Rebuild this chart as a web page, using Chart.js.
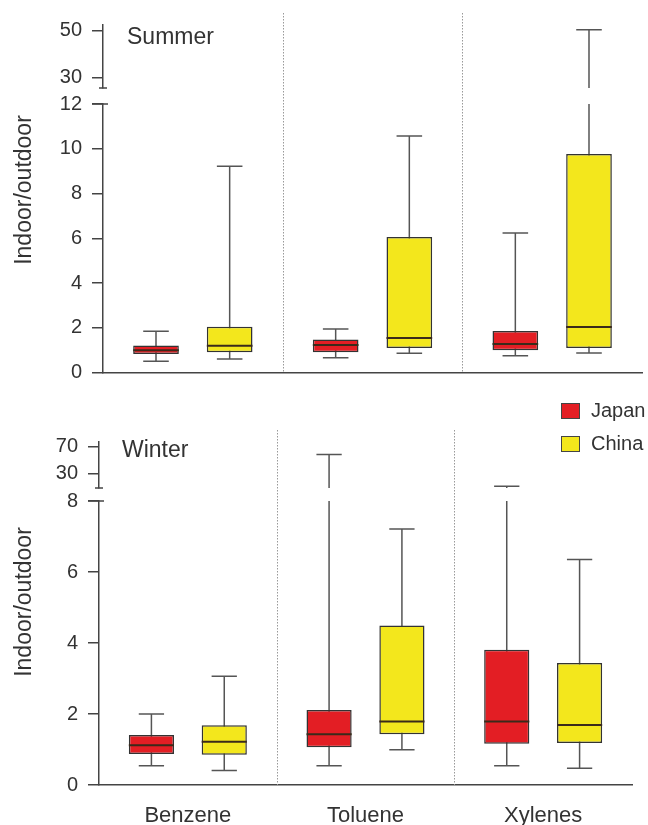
<!DOCTYPE html>
<html>
<head>
<title>Indoor/outdoor ratios</title>
<script src="https://cdn.jsdelivr.net/npm/chart.js"></script>
<style>
  body { margin: 0; background: #fff; font-family: 'Liberation Sans', Arial, sans-serif; color: #333; }
  .page { position: relative; width: 648px; height: 825px; overflow: hidden; }
  canvas { position: absolute; left: 0; }
  .season { position: absolute; font-size: 23px; line-height: 23px; }
  .ytitle { position: absolute; font-size: 23px; line-height: 23px; white-space: nowrap;
            transform: translate(-50%, -50%) rotate(-90deg); }
  .legend { position: absolute; left: 561px; top: 394px; font-size: 20px; }
  .legend .row { height: 33px; display: flex; align-items: center; }
  .legend .sw { width: 17px; height: 14px; border: 1.5px solid #444; margin-right: 11px; }
</style>
</head>
<body>
<div class="page">
  <canvas id="summerLow" width="648" height="395" style="top:0px"></canvas>
  <canvas id="summerUp" width="648" height="110" style="top:0px"></canvas>
  <canvas id="winterLow" width="648" height="430" style="top:395px"></canvas>
  <canvas id="winterUp" width="648" height="90" style="top:420px"></canvas>

  <div class="season" style="left:127px; top:25px">Summer</div>
  <div class="season" style="left:122px; top:438px">Winter</div>
  <div class="ytitle" style="left:23px; top:190px">Indoor/outdoor</div>
  <div class="ytitle" style="left:23px; top:602px">Indoor/outdoor</div>

  <div class="legend">
    <div class="row"><span class="sw" style="background:#e31e24"></span>Japan</div>
    <div class="row"><span class="sw" style="background:#f3e71c"></span>China</div>
  </div>
</div>

<script>
    const categories = ['Benzene', 'Toluene', 'Xylenes'];

    // Summer box plots (min, q1, median, q3, max)
    const summerJapanMin = [0.50, 0.66, 0.75];
    const summerJapanQ1  = [0.83, 0.90, 1.00];
    const summerJapanMed = [1.00, 1.23, 1.27];
    const summerJapanQ3  = [1.21, 1.48, 1.85];
    const summerJapanMax = [1.84, 1.94, 6.24];

    const summerChinaMin = [0.60, 0.86, 0.87];
    const summerChinaQ1  = [0.90, 1.09, 1.09];
    const summerChinaMed = [1.20, 1.54, 2.03];
    const summerChinaQ3  = [2.05, 6.06, 9.77];
    const summerChinaMax = [9.22, 10.57, 50.4];

    // Winter
    const winterJapanMin = [0.54, 0.54, 0.54];
    const winterJapanQ1  = [0.87, 1.06, 1.16];
    const winterJapanMed = [1.12, 1.43, 1.79];
    const winterJapanQ3  = [1.41, 2.11, 3.81];
    const winterJapanMax = [2.00, 58.0, 11.0];

    const winterChinaMin = [0.41, 0.99, 0.47];
    const winterChinaQ1  = [0.85, 1.43, 1.18];
    const winterChinaMed = [1.22, 1.79, 1.69];
    const winterChinaQ3  = [1.68, 4.49, 3.44];
    const winterChinaMax = [3.06, 7.21, 6.35];

    // broken y axes: upper and lower segment of each panel
    const summerUpperTicks = [30, 50];
    const summerLowerTicks = [0, 2, 4, 6, 8, 10, 12];
    const winterUpperTicks = [30, 70];
    const winterLowerTicks = [0, 2, 4, 6, 8];

    const RED = '#e31e24';
    const YELLOW = '#f3e71c';
    const FONT = "'Liberation Sans', Arial, sans-serif";

    function boxDataset(label, color, mn, q1, med, q3, mx) {
        return {
            label: label,
            data: q1.map((v, i) => [v, q3[i]]),
            backgroundColor: color,
            borderColor: '#333',
            borderWidth: 1.5,
            borderSkipped: false,
            categoryPercentage: 0.82,
            barPercentage: 0.62,
            clip: 0,
            stats: { min: mn, med: med, max: mx }
        };
    }

    function summerSets() {
        return [
            boxDataset('Japan', RED, summerJapanMin, summerJapanQ1, summerJapanMed, summerJapanQ3, summerJapanMax),
            boxDataset('China', YELLOW, summerChinaMin, summerChinaQ1, summerChinaMed, summerChinaQ3, summerChinaMax)
        ];
    }
    function winterSets() {
        return [
            boxDataset('Japan', RED, winterJapanMin, winterJapanQ1, winterJapanMed, winterJapanQ3, winterJapanMax),
            boxDataset('China', YELLOW, winterChinaMin, winterChinaQ1, winterChinaMed, winterChinaQ3, winterChinaMax)
        ];
    }

    function inRange(y, v) {
        return v >= y.min && v <= y.max;
    }

    // whiskers behind the boxes, medians on top; only the part inside this segment
    const whiskers = {
        id: 'whiskers',
        beforeDatasetsDraw(chart) {
            const { ctx, chartArea: a, scales: { y } } = chart;
            ctx.save();
            ctx.beginPath();
            ctx.rect(a.left, a.top, a.right - a.left, a.bottom - a.top);
            ctx.clip();
            ctx.strokeStyle = '#555';
            ctx.lineWidth = 1.5;
            chart.data.datasets.forEach((ds, d) => {
                chart.getDatasetMeta(d).data.forEach((bar, i) => {
                    const mn = ds.stats.min[i], mx = ds.stats.max[i];
                    if (mx < y.min || mn > y.max) return;
                    const lo = y.getPixelForValue(Math.max(mn, y.min));
                    const hi = y.getPixelForValue(Math.min(mx, y.max));
                    const half = bar.width * 0.28;
                    ctx.beginPath();
                    ctx.moveTo(bar.x, lo); ctx.lineTo(bar.x, hi);
                    if (inRange(y, mn)) { ctx.moveTo(bar.x - half, lo); ctx.lineTo(bar.x + half, lo); }
                    if (inRange(y, mx)) { ctx.moveTo(bar.x - half, hi); ctx.lineTo(bar.x + half, hi); }
                    ctx.stroke();
                });
            });
            ctx.restore();
        },
        afterDatasetsDraw(chart) {
            const { ctx, chartArea: a, scales: { y } } = chart;
            ctx.save();
            ctx.strokeStyle = '#3a2a1a';
            ctx.lineWidth = 2;
            chart.data.datasets.forEach((ds, d) => {
                chart.getDatasetMeta(d).data.forEach((bar, i) => {
                    if (!inRange(y, ds.stats.med[i])) return;
                    const m = y.getPixelForValue(ds.stats.med[i]);
                    ctx.beginPath();
                    ctx.moveTo(bar.x - bar.width / 2, m);
                    ctx.lineTo(bar.x + bar.width / 2, m);
                    ctx.stroke();
                });
            });
            ctx.restore();
        }
    };

    // dotted lines between the compounds
    const separators = {
        id: 'separators',
        beforeDatasetsDraw(chart, args, opts) {
            if (opts.top === undefined) return;
            const { ctx, chartArea: a, scales: { x } } = chart;
            ctx.save();
            ctx.strokeStyle = '#999';
            ctx.lineWidth = 1;
            ctx.setLineDash([1.5, 1.5]);
            for (let i = 0; i < categories.length - 1; i++) {
                const px = Math.round((x.getPixelForValue(i) + x.getPixelForValue(i + 1)) / 2) + 0.5;
                ctx.beginPath();
                ctx.moveTo(px, opts.top);
                ctx.lineTo(px, a.bottom);
                ctx.stroke();
            }
            ctx.restore();
        }
    };

    // small caps where the y axis is broken
    const breakMarks = {
        id: 'breakMarks',
        afterDraw(chart, args, opts) {
            if (!opts.edge) return;
            const { ctx, chartArea: a } = chart;
            const yy = opts.edge === 'bottom' ? a.bottom : a.top;
            ctx.save();
            ctx.strokeStyle = '#444';
            ctx.lineWidth = 1.5;
            ctx.beginPath();
            ctx.moveTo(a.left - opts.left, yy);
            ctx.lineTo(a.left + opts.right, yy);
            ctx.stroke();
            ctx.restore();
        }
    };

    function makeChart(id, c) {
        return new Chart(document.getElementById(id), {
            type: 'bar',
            data: { labels: categories, datasets: c.datasets },
            options: {
                responsive: false,
                animation: false,
                events: [],
                layout: { padding: c.padding },
                plugins: {
                    legend: { display: false },
                    tooltip: { enabled: false },
                    separators: { top: c.sepTop },
                    breakMarks: c.breakMark || {}
                },
                scales: {
                    x: {
                        offset: true,
                        grid: { display: false, drawTicks: false },
                        border: { display: c.xBorder, color: '#444', width: 1.5 },
                        ticks: {
                            display: c.xLabels,
                            color: '#333',
                            padding: c.xPad || 0,
                            font: { family: FONT, size: 22 }
                        },
                        afterFit: s => { s.height = c.xHeight; }
                    },
                    y: {
                        min: c.min,
                        max: c.max,
                        bounds: 'data',
                        afterBuildTicks: s => { s.ticks = c.ticks.map(v => ({ value: v })); },
                        grid: { drawOnChartArea: false, drawTicks: true, tickLength: 11,
                                color: '#444', tickColor: '#444', lineWidth: 1.5 },
                        border: { display: true, color: '#444', width: 1.5 },
                        ticks: { color: '#333', padding: 10, font: { family: FONT, size: 20 } },
                        afterFit: s => { s.width = c.yWidth; }
                    }
                }
            },
            plugins: [whiskers, separators, breakMarks]
        });
    }

    makeChart('summerLow', {
        datasets: summerSets(), min: 0, max: 12, ticks: summerLowerTicks,
        padding: { top: 104, bottom: 22.5, left: 0, right: 6 },
        yWidth: 103, xHeight: 0, xLabels: false, xBorder: true, sepTop: 13,
        breakMark: { edge: 'top', left: 11, right: 5 }
    });
    makeChart('summerUp', {
        datasets: summerSets(), min: 25.5, max: 52.4, ticks: summerUpperTicks,
        padding: { top: 25, bottom: 19, left: 0, right: 6 },
        yWidth: 103, xHeight: 0, xLabels: false, xBorder: false,
        breakMark: { edge: 'bottom', left: 4, right: 4 }
    });
    makeChart('winterLow', {
        datasets: winterSets(), min: 0, max: 8, ticks: winterLowerTicks,
        padding: { top: 106, bottom: 0, left: 0, right: 16 },
        yWidth: 99, xHeight: 40, xLabels: true, xPad: 18, xBorder: true, sepTop: 35,
        breakMark: { edge: 'top', left: 11, right: 5 }
    });
    makeChart('winterUp', {
        datasets: winterSets(), min: 8.3, max: 76.3, ticks: winterUpperTicks,
        padding: { top: 17, bottom: 22, left: 0, right: 16 },
        yWidth: 99, xHeight: 0, xLabels: false, xBorder: false,
        breakMark: { edge: 'bottom', left: 4, right: 4 }
    });
</script>
</body>
</html>
